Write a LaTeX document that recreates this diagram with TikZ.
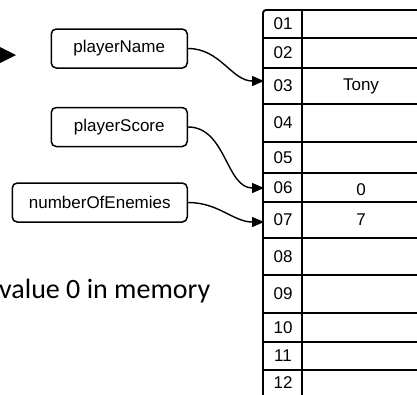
\documentclass[tikz,border=0pt]{standalone}
\usepackage{fontspec}
\setmainfont{Liberation Sans}
\newfontfamily\bodyfont{Carlito}
\usetikzlibrary{arrows.meta}
\tikzset{
  varbox/.style={draw, line width=1.5pt, rounded corners=5pt, minimum height=39pt,
    inner sep=0pt, font=\fontsize{17}{19}\selectfont, anchor=east},
  cell/.style={font=\fontsize{17}{19}\selectfont, inner sep=0pt},
  grid/.style={line width=1.9pt},
  conn/.style={line width=1.4pt, -{Triangle[length=12pt,width=10pt]}, out=0, in=180, looseness=1.0}
}
\begin{document}
\begin{tikzpicture}[x=1pt,y=-1pt]
  \clip (0,0) rectangle (417,394);
  \fill[white] (0,0) rectangle (417,394);

  % arrowhead at the left edge
  \fill (-2,46) -- (16,55) -- (-2,64) -- cycle;

  % memory table
  \draw[grid, rounded corners=3pt] (263,420) -- (263,10) -- (440,10);
  \draw[grid] (302,10) -- (302,420);
  \foreach \yy in {38,68,104,142,173,202,238,275,313,342,370}
    \draw[grid] (263,\yy) -- (440,\yy);

  % addresses
  \foreach \lab/\yc in {01/24,02/53,03/86,04/123,05/157.5,06/187.5,07/220,08/256.5,09/294,10/327.5,11/356,12/383}
    \node[cell] (a\lab) at (283,\yc) {\lab};

  % stored values
  \node[cell] (v03) at (361,86) {Tony};
  \node[cell] (v06) at (361,190) {0};
  \node[cell] (v07) at (361,220) {7};

  % variable names
  \node[varbox, minimum width=136pt] (pn) at (188,48.5) {playerName};
  \node[varbox, minimum width=136pt] (ps) at (188,127) {playerScore};
  \node[varbox, minimum width=175pt] (ne) at (188,202.5) {numberOfEnemies};

  % arrow targets on the table edge
  \coordinate (t03) at (264,81);
  \coordinate (t06) at (264,188);
  \coordinate (t07) at (264,222);

  \draw[conn] (pn.east) to (t03);
  \draw[conn] (ps.east) to (t06);
  \draw[conn] (ne.east) to (t07);

  % caption text
  \node[anchor=base west, inner sep=0pt, font=\bodyfont\fontsize{28}{32}\selectfont] (cap) at (-1,298) {value 0 in memory};
\end{tikzpicture}
\end{document}
